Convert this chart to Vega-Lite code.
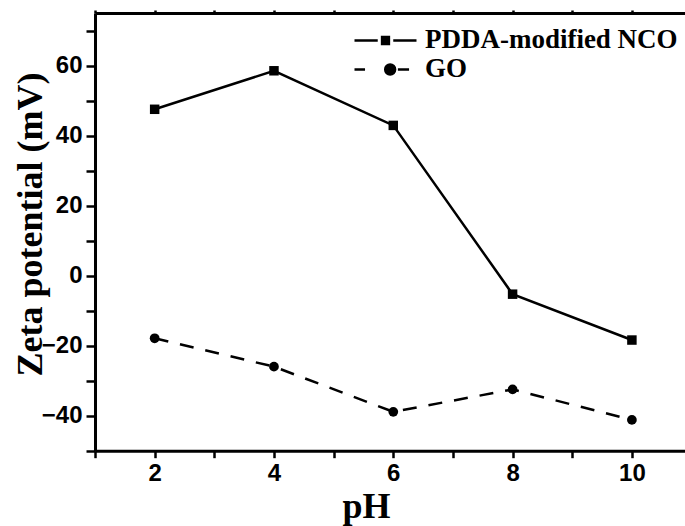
{
  "$schema": "https://vega.github.io/schema/vega-lite/v6.json",
  "autosize": "none",
  "padding": {"left": 95, "top": 13, "right": 0, "bottom": 75},
  "width": 590,
  "height": 437.7,
  "background": "white",
  "config": {
    "view": {"stroke": null},
    "axis": {
      "domainColor": "black",
      "domainWidth": 3,
      "tickColor": "black",
      "tickWidth": 2.5,
      "labelColor": "black",
      "labelFont": "Liberation Sans",
      "labelFontWeight": "bold",
      "labelFontSize": 24,
      "titleColor": "black",
      "titleFont": "Liberation Serif",
      "titleFontWeight": "bold",
      "titleFontSize": 36,
      "grid": false
    }
  },
  "data": {
    "values": [
      {"pH": 2, "zeta": 47.5, "series": "PDDA-modified NCO"},
      {"pH": 4, "zeta": 58.5, "series": "PDDA-modified NCO"},
      {"pH": 6, "zeta": 42.9, "series": "PDDA-modified NCO"},
      {"pH": 8, "zeta": -5.3, "series": "PDDA-modified NCO"},
      {"pH": 10, "zeta": -18.4, "series": "PDDA-modified NCO"},
      {"pH": 2, "zeta": -17.9, "series": "GO"},
      {"pH": 4, "zeta": -26.0, "series": "GO"},
      {"pH": 6, "zeta": -38.9, "series": "GO"},
      {"pH": 8, "zeta": -32.5, "series": "GO"},
      {"pH": 10, "zeta": -41.2, "series": "GO"}
    ]
  },
  "encoding": {
    "y": {
      "field": "zeta", "type": "quantitative",
      "scale": {"domain": [-50, 75], "nice": false, "zero": false},
      "axis": {
        "values": [-50, -40, -30, -20, -10, 0, 10, 20, 30, 40, 50, 60, 70],
        "labelExpr": "datum.value % 20 == 0 ? datum.label : ''",
        "tickSize": 9,
        "labelPadding": 4,
        "labelFlush": false,
        "title": "Zeta potential (mV)",
        "titleAngle": -90,
        "titleX": -54,
        "titleY": 211,
        "titleBaseline": "alphabetic",
        "titleAlign": "center",
        "encode": {"ticks": {"update": {"x2": {"signal": "datum.value % 20 != 0 ? -6 : -9"}}}}
      }
    }
  },
  "layer": [
    {
      "transform": [{"filter": "datum.series == 'PDDA-modified NCO'"}],
      "mark": {"type": "line", "strokeWidth": 2.5, "clip": false},
      "encoding": {
        "x": {
          "field": "pH", "type": "quantitative",
          "scale": {"domain": [1, 10.89], "nice": false, "zero": false},
          "axis": {
            "orient": "bottom",
            "values": [1, 2, 3, 4, 5, 6, 7, 8, 9, 10],
            "labelExpr": "datum.value % 2 == 0 ? datum.label : ''",
            "tickSize": 7,
            "labelPadding": 3.5,
            "labelFlush": false,
            "title": "pH",
            "titleX": 271,
            "titleY": 66.5,
            "titleBaseline": "alphabetic",
            "titleAlign": "center",
            "encode": {"ticks": {"update": {"y2": {"signal": "datum.value % 2 != 0 ? 5 : 7"}}}}
          }
        },
        "color": {
          "field": "series", "type": "nominal",
          "scale": {"domain": ["PDDA-modified NCO", "GO"], "range": ["black", "black"]},
          "legend": {
            "title": null,
            "orient": "none",
            "legendX": 258,
            "legendY": 13,
            "padding": 0,
            "symbolSize": 3844,
            "symbolStrokeWidth": 2.5,
            "labelFont": "Liberation Serif",
            "labelFontWeight": "bold",
            "labelFontSize": 27,
            "labelColor": "black",
            "labelOffset": 7,
            "labelLimit": 400,
            "clipHeight": 29,
            "rowPadding": 0,
            "encode": {
              "symbols": {
                "update": {
                  "shape": {"signal": "datum.value == 'GO' ? 'M-1,0H-0.66M0.4,0H0.76M0.31,0A0.16,0.16 0 1,1 -0.01,0A0.16,0.16 0 1,1 0.31,0Z' : 'M-1,0H-0.25M0.25,0H1M-0.11,-0.11H0.11V0.11H-0.11Z'"},
                  "fill": {"value": "black"},
                  "stroke": {"value": "black"},
                  "strokeDash": {"value": []},
                  "strokeWidth": {"value": 2.5},
                  "opacity": {"value": 1}
                }
              }
            }
          }
        }
      }
    },
    {
      "transform": [{"filter": "datum.series == 'GO'"}],
      "mark": {"type": "line", "strokeWidth": 2.5, "strokeDash": [14, 12], "clip": false},
      "encoding": {
        "x": {"field": "pH", "type": "quantitative", "axis": null},
        "color": {"field": "series", "type": "nominal"}
      }
    },
    {
      "transform": [{"filter": "datum.series == 'PDDA-modified NCO'"}],
      "mark": {"type": "point", "shape": "square", "filled": true, "size": 90, "opacity": 1, "color": "black", "clip": false},
      "encoding": {
        "x": {"field": "pH", "type": "quantitative", "axis": null}
      }
    },
    {
      "transform": [{"filter": "datum.series == 'GO'"}],
      "mark": {"type": "point", "shape": "circle", "filled": true, "size": 95, "opacity": 1, "color": "black", "clip": false},
      "encoding": {
        "x": {
          "field": "pH", "type": "quantitative",
          "axis": {
            "orient": "top",
            "values": [1, 2, 3, 4, 5, 6, 7, 8, 9, 10],
            "labels": false,
            "tickSize": 3,
            "title": null
          }
        }
      }
    }
  ],
  "resolve": {"axis": {"x": "independent"}}
}
